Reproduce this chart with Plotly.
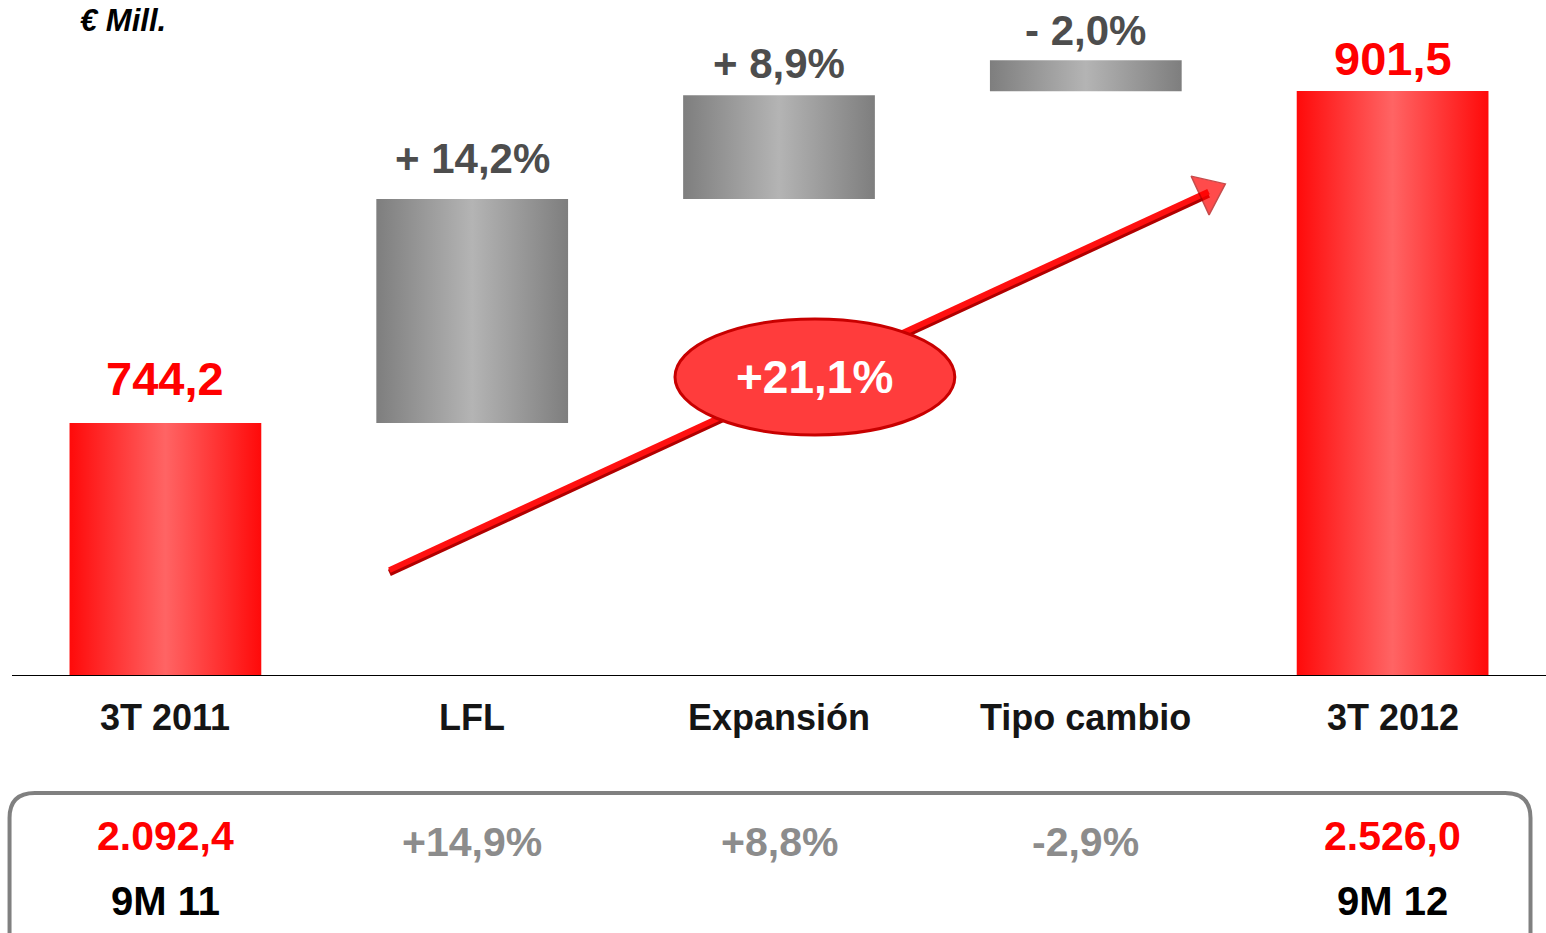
import plotly.graph_objects as go

# ---------------- data ----------------
categories = ["3T 2011", "LFL", "Expansión", "Tipo cambio", "3T 2012"]
bar_low = [0.0, 744.2, 850.3, 901.4, 0.0]      # € Mill.
bar_high = [744.2, 850.3, 899.5, 916.1, 901.5]  # € Mill.
bar_kind = ["total", "delta", "delta", "delta", "total"]
value_labels = ["744,2", "+ 14,2%", "+ 8,9%", "- 2,0%", "901,5"]
ytd_values = ["2.092,4", "+14,9%", "+8,8%", "-2,9%", "2.526,0"]
ytd_periods = ["9M 11", "", "", "", "9M 12"]
growth_label = "+21,1%"
unit_label = "€ Mill."
arrow_x = [0.73, 3.40]
arrow_y = [674.5, 853.8]

# ---------------- style ----------------
FONT = "Liberation Sans, Arial, sans-serif"
RED_SCALE = [[0, "#ff0a0a"], [0.5, "#ff6464"], [1, "#ff0a0a"]]
GRAY_SCALE = [[0, "#7e7e7e"], [0.5, "#b4b4b4"], [1, "#7e7e7e"]]
BAR_W = 0.625
Y_MIN, Y_MAX = 624.8, 944.6

fig = go.Figure()

for i, (lo, hi, kind) in enumerate(zip(bar_low, bar_high, bar_kind)):
    x0, x1 = i - BAR_W / 2, i + BAR_W / 2
    fig.add_trace(go.Scatter(
        x=[x0, x1, x1, x0, x0], y=[lo, lo, hi, hi, lo],
        mode="lines", fill="toself", line=dict(width=0),
        fillgradient=dict(type="horizontal",
                          colorscale=RED_SCALE if kind == "total" else GRAY_SCALE),
        hoverinfo="skip", showlegend=False,
    ))

# arrow (shadow + main + head)
fig.add_trace(go.Scatter(
    x=arrow_x, y=[v - 1.3 for v in arrow_y], mode="lines",
    line=dict(color="#b00000", width=7), hoverinfo="skip", showlegend=False))
fig.add_trace(go.Scatter(
    x=arrow_x, y=arrow_y, mode="lines+markers",
    line=dict(color="#ff1010", width=6),
    marker=dict(symbol="triangle-up", size=[0, 37], angleref="previous",
                color="#ff0000", line=dict(width=1.5, color="#b00000")),
    hoverinfo="skip", showlegend=False))

annotations = []
label_shift = [17, 16, 7, 5, 5]
for i, (lab, kind) in enumerate(zip(value_labels, bar_kind)):
    annotations.append(dict(
        x=i, y=max(bar_low[i], bar_high[i]), xref="x", yref="y",
        text=lab, showarrow=False, yanchor="bottom", yshift=label_shift[i],
        borderpad=0,
        font=dict(family=FONT, size=47 if kind == "total" else 42, weight="bold",
                  color="#ff0000" if kind == "total" else "#4d4d4d")))

for i, cat in enumerate(categories):
    annotations.append(dict(
        x=i, y=-0.0637, xref="x", yref="paper", text=cat, showarrow=False,
        xanchor="center", yanchor="middle",
        font=dict(family=FONT, size=36, weight="bold", color="#151515")))

for i, (v, p, kind) in enumerate(zip(ytd_values, ytd_periods, bar_kind)):
    annotations.append(dict(
        x=i, y=-0.2385 if kind == "total" else -0.2474, xref="x", yref="paper",
        text=v, showarrow=False, xanchor="center", yanchor="middle",
        font=dict(family=FONT, size=41, weight="bold",
                  color="#ff0000" if kind == "total" else "#8c8c8c")))
    if p:
        annotations.append(dict(
            x=i, y=-0.3348, xref="x", yref="paper", text=p, showarrow=False,
            xanchor="center", yanchor="middle",
            font=dict(family=FONT, size=40, weight="bold", color="#000000")))

annotations.append(dict(
    x=2.117, y=766.0, xref="x", yref="y", text=growth_label, showarrow=False,
    xanchor="center", yanchor="middle",
    font=dict(family=FONT, size=46, weight="bold", color="#ffffff")))

annotations.append(dict(
    x=0.0726, y=0.970, xref="paper", yref="paper", text=unit_label,
    showarrow=False, xanchor="center", yanchor="middle", borderpad=0,
    font=dict(family=FONT, size=31, weight="bold", style="italic", color="#000000")))

# bottom rounded box (paper coords)
bx0, bx1 = -0.0016, 0.9899
byt, byb = -0.1748, -0.50
rx, ry = 0.0165, 0.037
box_path = (f"M {bx0},{byb} L {bx0},{byt - ry} Q {bx0},{byt} {bx0 + rx},{byt} "
            f"L {bx1 - rx},{byt} Q {bx1},{byt} {bx1},{byt - ry} L {bx1},{byb}")

shapes = [
    dict(type="circle", xref="x", yref="y", x0=1.661, x1=2.573, y0=738.5, y1=793.5,
         fillcolor="#ff3c3c", line=dict(color="#c80000", width=3), layer="above"),
    dict(type="path", xref="paper", yref="paper", path=box_path,
         line=dict(color="#808080", width=4), layer="above"),
]

fig.update_layout(
    width=1546, height=933,
    margin=dict(l=12, r=0, t=0, b=258),
    paper_bgcolor="#ffffff", plot_bgcolor="#ffffff",
    xaxis=dict(range=[-0.5, 4.5], showgrid=False, zeroline=False,
               showticklabels=False, ticks="", showline=True,
               linecolor="#000000", linewidth=1, fixedrange=True),
    yaxis=dict(range=[Y_MIN, Y_MAX], showgrid=False, zeroline=False,
               showticklabels=False, ticks="", showline=False, fixedrange=True),
    annotations=annotations, shapes=shapes, showlegend=False,
)

fig.write_html("out.html", config={"displayModeBar": False},
               post_script="document.body.style.margin='0';"
                           "document.body.style.overflow='hidden';")
